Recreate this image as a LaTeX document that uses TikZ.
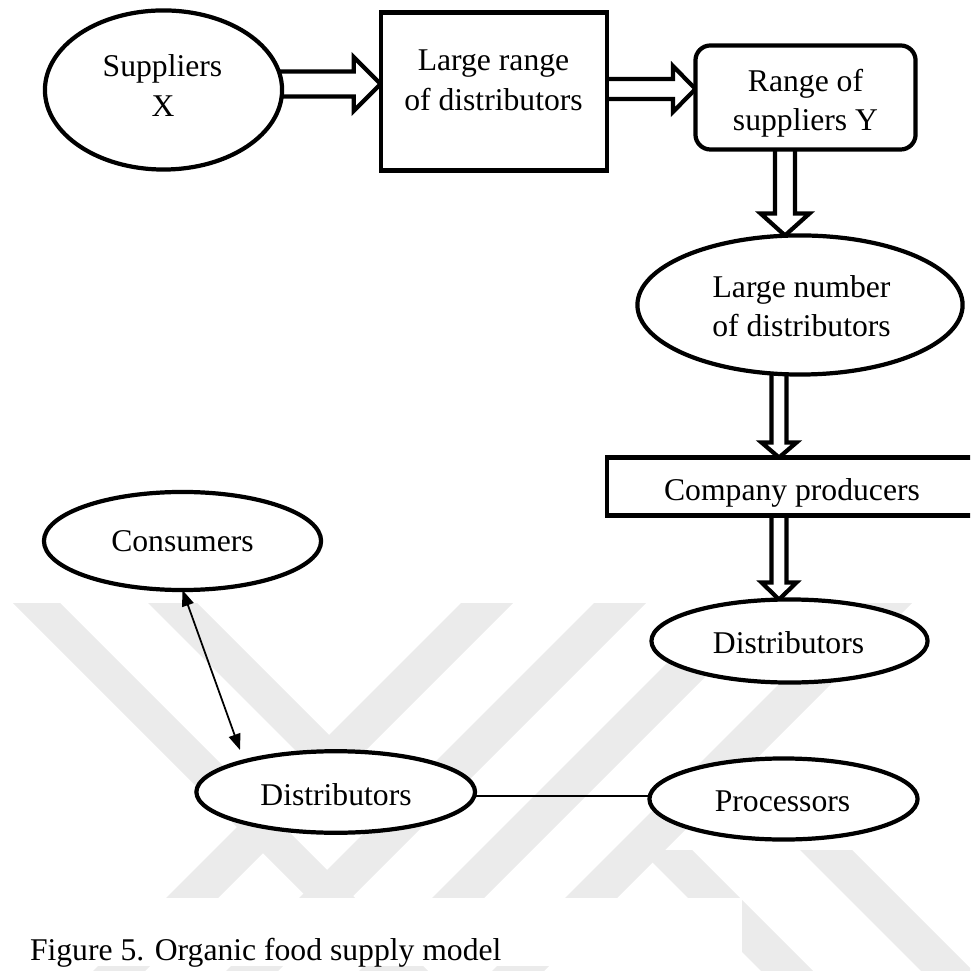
\documentclass[tikz,border=0pt]{standalone}
\usepackage{fontspec}
\setmainfont{Liberation Serif}
\usetikzlibrary{calc,arrows.meta,shapes.geometric}
\pgfdeclarelayer{wmlayer}
\pgfdeclarelayer{background}
\pgfsetlayers{wmlayer,background,main}
\definecolor{wm}{RGB}{235,235,235}
\tikzset{
  shp/.style={draw, line width=1.2pt, fill=white, inner sep=0pt, outer sep=0pt},
  ell/.style={shp, ellipse},
  boxr/.style={shp, rectangle},
  rbox/.style={shp, rectangle, rounded corners=0.15cm},
  txt/.style={anchor=base, inner sep=0pt, outer sep=0pt, font=\fontsize{9}{11}\selectfont},
  fat/.style={draw, fill=white, line width=1.2pt, line join=miter, miter limit=10},
  thinln/.style={line width=0.5pt},
  dbl/.style={thinln, {Triangle[length=0.16cm,width=0.12cm]}-{Triangle[length=0.16cm,width=0.12cm]}},
}
% horizontal fat arrow: #1 source, #2 tip, #3 shaft half, #4 head half, #5 head length
\newcommand{\fatR}[5]{\draw[fat] let \p1=(#1), \p2=(#2) in
  (\x1,\y2+#3) -- (\x2-#5,\y2+#3) -- (\x2-#5,\y2+#4) -- (\x2,\y2) --
  (\x2-#5,\y2-#4) -- (\x2-#5,\y2-#3) -- (\x1,\y2-#3);}
% downward fat arrow
\newcommand{\fatD}[5]{\draw[fat] let \p1=(#1), \p2=(#2) in
  (\x2-#3,\y1) -- (\x2-#3,\y2+#5) -- (\x2-#4,\y2+#5) -- (\x2,\y2) --
  (\x2+#4,\y2+#5) -- (\x2+#3,\y2+#5) -- (\x2+#3,\y1);}
\begin{document}
\begin{tikzpicture}[x=0.01cm,y=-0.01cm]
\useasboundingbox (0,0) rectangle (970,971);
\clip (0,0) rectangle (970,971);

% ---------- shapes ----------
\node[ell, minimum width=2.37cm, minimum height=1.59cm] (sx) at (163.5,90) {};
\node[boxr, minimum width=2.265cm, minimum height=1.58cm] (lr) at (494,91.5) {};
\node[rbox, minimum width=2.20cm, minimum height=1.04cm] (ry) at (805.5,97.5) {};
\node[ell, minimum width=3.25cm, minimum height=1.39cm] (ln) at (800,305) {};
\node[boxr, minimum width=3.83cm, minimum height=0.58cm] (cp) at (798.5,486.5) {};
\node[ell, minimum width=2.76cm, minimum height=0.83cm] (dr) at (789.5,641) {};
\node[ell, minimum width=2.77cm, minimum height=0.98cm] (cs) at (182.5,541) {};
\node[ell, minimum width=2.785cm, minimum height=0.815cm] (dl) at (335.7,792) {};
\node[ell, minimum width=2.68cm, minimum height=0.81cm] (pr) at (783.5,799) {};

% ---------- texts ----------
\node[txt] (sxa) at (162.5,77) {Suppliers};
\node[txt] (sxb) at (163,116.5) {X};
\node[txt] (lra) at (493.5,70.5) {Large range};
\node[txt] (lrb) at (493.5,110.5) {of distributors};
\node[txt] (rya) at (805.5,92) {Range of};
\node[txt] (ryb) at (805.5,131) {suppliers Y};
\node[txt] (lna) at (801.5,297.5) {Large number};
\node[txt] (lnb) at (801.5,336.5) {of distributors};
\node[txt] (cpt) at (792,500.5) {Company producers};
\node[txt] (drt) at (788.5,653) {Distributors};
\node[txt] (cst) at (182.5,551) {Consumers};
\node[txt] (dlt) at (336,805.5) {Distributors};
\node[txt] (prt) at (782.5,811.5) {Processors};
\node[txt, anchor=base west] (cap) at (30,960.5) {Figure 5. Organic food supply model};

% ---------- helper coordinates ----------
\coordinate (ax) at (779,0);
\coordinate (ax2) at (785,0);
\coordinate (mid) at (0,796);
\coordinate (dtip) at (240,750);

% ---------- watermark ----------
\begin{pgfonlayer}{wmlayer}
  \begin{scope}
    \clip (0,603) rectangle (970,971);
    \fill[wm] (13,603) -- (60,603) -- (460,1003) -- (413,1003) -- cycle;
    \fill[wm] (148,603) -- (197,603) -- (333,739) -- (333,788) -- cycle;
    \foreach \q in {461,594,727,860}
      \fill[wm] (\q,603) -- ({\q+52},603) -- ({\q+52-400},1003) -- ({\q-400},1003) -- cycle;
    \fill[wm] (640,850) -- (692,850) -- (845,1003) -- (793,1003) -- cycle;
    \fill[wm] (800,850) -- (852,850) -- (1005,1003) -- (953,1003) -- cycle;
  \end{scope}
  \fill[white] (0,898) rectangle (742,966);
\end{pgfonlayer}

% ---------- fat arrows ----------
\begin{pgfonlayer}{background}
  \fatR{sx}{[yshift=0.075cm]lr.west}{0.125cm}{0.27cm}{0.27cm}
  \fatR{lr}{[yshift=0.085cm]ry.west}{0.10cm}{0.23cm}{0.225cm}
  \fatD{ry}{ln.north -| ax2}{0.10cm}{0.245cm}{0.22cm}
  \fatD{ln}{cp.north -| ax}{0.075cm}{0.175cm}{0.15cm}
  \fatD{cp}{dr.north -| ax}{0.075cm}{0.175cm}{0.17cm}
\end{pgfonlayer}

% ---------- thin connectors ----------
\draw[dbl] (cs.south) -- (dtip);
\draw[thinln] (dl.east |- mid) -- (pr.west |- mid);
\end{tikzpicture}
\end{document}
